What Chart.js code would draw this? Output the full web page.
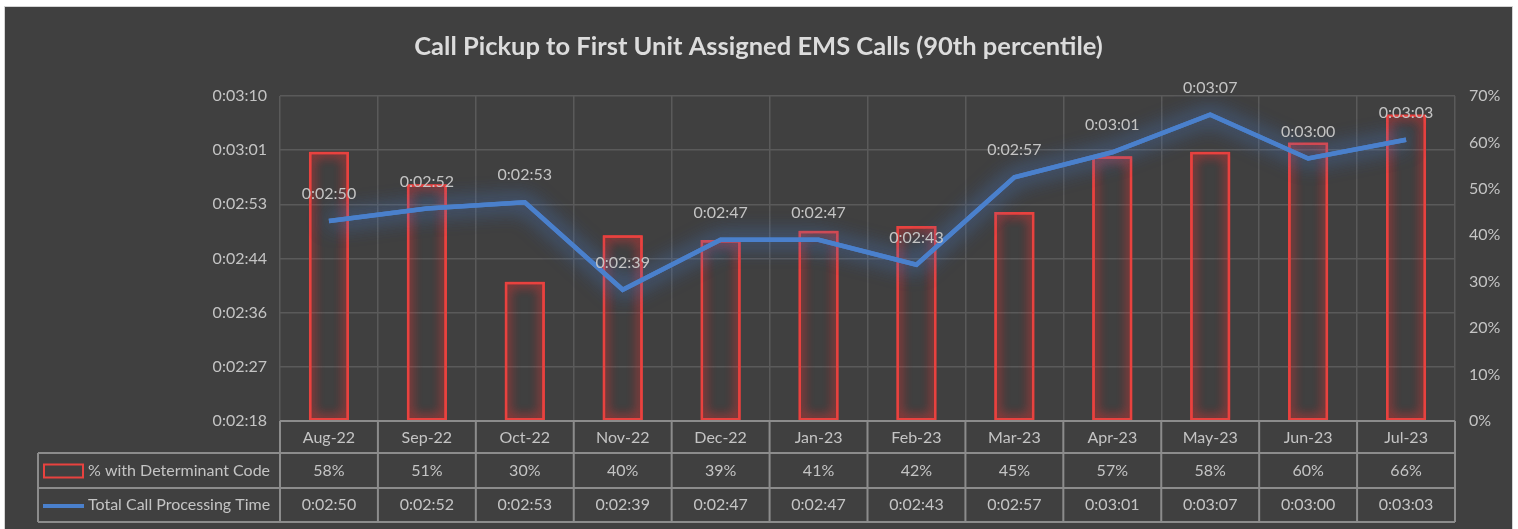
<!DOCTYPE html>
<html>
<head>
<meta charset="utf-8">
<script src="https://cdn.jsdelivr.net/npm/chart.js@4"></script>
<style>
  html, body { margin: 0; padding: 0; background: #fff; }
  #wrap {
    position: absolute; left: 5px; top: 7px; width: 1507px; height: 522px;
    background: #404040; box-shadow: 0 0 0 1px #d4d4d4;
  }
</style>
</head>
<body>
<div id="wrap"><canvas id="myChart" width="1507" height="522"></canvas></div>
<script>
const months = ['Aug-22', 'Sep-22', 'Oct-22', 'Nov-22', 'Dec-22', 'Jan-23', 'Feb-23', 'Mar-23', 'Apr-23', 'May-23', 'Jun-23', 'Jul-23'];
// % with determinant code
const pctDeterminant = [58, 51, 30, 40, 39, 41, 42, 45, 57, 58, 60, 66];
// total call processing time, in seconds
const processingSec = [170, 172, 173, 159, 167, 167, 163, 177, 181, 187, 180, 183];
// left axis ticks (seconds) and how Excel printed them
const leftTickValues = [138, 146.67, 155.33, 164, 172.67, 181.33, 190];
const leftTickLabels = ['0:02:18', '0:02:27', '0:02:36', '0:02:44', '0:02:53', '0:03:01', '0:03:10'];
const seriesNames = ['% with Determinant Code', 'Total Call Processing Time'];
const title = 'Call Pickup to First Unit Assigned EMS Calls (90th percentile)';

const textColor = '#c4c4c4';
const gridColor = '#5a5a5a';
const tableLine = '#8c8c8c';
const barColor = '#e8423f';
const lineColor = '#4a80cc';
const fontFamily = 'Lato';

function fmtTime(s) {
    const m = Math.floor(s / 60);
    const sec = Math.round(s % 60);
    return '0:' + String(m).padStart(2, '0') + ':' + String(sec).padStart(2, '0');
}

// glow around bars and line (extra passes make it stronger)
const glowPlugin = {
    id: 'glow',
    beforeDatasetDraw(chart, args) {
        const ds = chart.data.datasets[args.index];
        const ctx = chart.ctx;
        ctx.save();
        ctx.shadowColor = ds.glowColor;
        ctx.shadowBlur = ds.glowBlur;
        for (let i = 1; i < ds.glowPasses; i++) {
            args.meta.controller.draw();
        }
    },
    afterDatasetDraw(chart) {
        chart.ctx.restore();
    }
};

// title, point labels and the data table below the axis
const extrasPlugin = {
    id: 'extras',
    afterDraw(chart) {
        const ctx = chart.ctx;
        const area = chart.chartArea;
        const x = chart.scales.x;
        ctx.save();

        // title
        ctx.fillStyle = '#dcdcdc';
        ctx.font = 'bold 25.5px ' + fontFamily;
        ctx.textAlign = 'center';
        ctx.textBaseline = 'middle';
        ctx.fillText(title, chart.width / 2, 40);

        // labels above line points
        ctx.font = '16px ' + fontFamily;
        ctx.fillStyle = textColor;
        const lineMeta = chart.getDatasetMeta(1);
        lineMeta.data.forEach((pt, i) => {
            ctx.fillText(fmtTime(processingSec[i]), pt.x, pt.y - 27);
        });

        // table
        const tableLeft = 33;
        const rowTop = area.bottom;
        const r1 = rowTop + 32, r2 = r1 + 35, r3 = r2 + 34;
        const half = (x.getPixelForValue(1) - x.getPixelForValue(0)) / 2;
        ctx.strokeStyle = tableLine;
        ctx.lineWidth = 2;
        ctx.beginPath();
        ctx.moveTo(area.left, rowTop); ctx.lineTo(area.right, rowTop);
        ctx.moveTo(tableLeft, r1); ctx.lineTo(area.right, r1);
        ctx.moveTo(tableLeft, r2); ctx.lineTo(area.right, r2);
        ctx.moveTo(tableLeft, r3); ctx.lineTo(area.right, r3);
        ctx.moveTo(tableLeft, r1); ctx.lineTo(tableLeft, r3);
        for (let i = 0; i <= months.length; i++) {
            const px = i < months.length ? x.getPixelForValue(i) - half : x.getPixelForValue(i - 1) + half;
            ctx.moveTo(px, rowTop); ctx.lineTo(px, r3);
        }
        ctx.stroke();

        ctx.fillStyle = textColor;
        ctx.font = '16px ' + fontFamily;
        ctx.textAlign = 'center';
        months.forEach((m, i) => {
            const px = x.getPixelForValue(i);
            ctx.fillText(pctDeterminant[i] + '%', px, (r1 + r2) / 2);
            ctx.fillText(fmtTime(processingSec[i]), px, (r2 + r3) / 2);
        });

        // legend keys in the table
        ctx.textAlign = 'left';
        ctx.fillText(seriesNames[0], 83, (r1 + r2) / 2);
        ctx.fillText(seriesNames[1], 83, (r2 + r3) / 2);
        ctx.strokeStyle = barColor;
        ctx.lineWidth = 2;
        ctx.strokeRect(39, (r1 + r2) / 2 - 6, 39, 13);
        ctx.strokeStyle = lineColor;
        ctx.lineWidth = 4;
        ctx.beginPath();
        ctx.moveTo(38, (r2 + r3) / 2 + 1);
        ctx.lineTo(79, (r2 + r3) / 2 + 1);
        ctx.stroke();
        ctx.restore();
    }
};

const data = {
    labels: months,
    datasets: [{
        type: 'bar',
        label: seriesNames[0],
        data: pctDeterminant,
        yAxisID: 'y1',
        backgroundColor: 'rgba(0,0,0,0)',
        borderColor: barColor,
        borderWidth: 2.5,
        borderSkipped: false,
        barPercentage: 0.41,
        categoryPercentage: 1,
        glowColor: 'rgba(255, 50, 50, 0.8)',
        glowBlur: 12,
        glowPasses: 2,
        order: 2
    }, {
        type: 'line',
        label: seriesNames[1],
        data: processingSec,
        yAxisID: 'y',
        borderColor: lineColor,
        borderWidth: 4.5,
        pointRadius: 0,
        tension: 0,
        glowColor: 'rgba(70, 130, 220, 0.7)',
        glowBlur: 22,
        glowPasses: 2,
        order: 1
    }]
};

const config = {
    data: data,
    options: {
        responsive: false,
        animation: false,
        layout: {
            padding: { top: 89, bottom: 76, left: 0, right: 0 }
        },
        plugins: {
            legend: { display: false },
            tooltip: { enabled: false }
        },
        scales: {
            x: {
                grid: {
                    offset: true,
                    color: gridColor,
                    lineWidth: 1.5,
                    drawTicks: false
                },
                border: { display: false },
                ticks: {
                    color: textColor,
                    font: { family: fontFamily, size: 16 },
                    padding: 7
                },
                afterFit(scale) { scale.height = 32; }
            },
            y: {
                position: 'left',
                min: 138,
                max: 190,
                afterBuildTicks(scale) {
                    scale.ticks = leftTickValues.map(v => ({ value: v }));
                },
                grid: { color: gridColor, lineWidth: 1.5, drawTicks: false },
                border: { display: false },
                ticks: {
                    color: textColor,
                    font: { family: fontFamily, size: 16 },
                    padding: 13,
                    callback: function(val, index) {
                        return leftTickLabels[index];
                    }
                },
                afterFit(scale) { scale.width = 275; }
            },
            y1: {
                position: 'right',
                min: 0,
                max: 70,
                grid: { drawOnChartArea: false, drawTicks: false },
                border: { display: false },
                ticks: {
                    stepSize: 10,
                    color: textColor,
                    font: { family: fontFamily, size: 16 },
                    padding: 14,
                    callback: v => v + '%'
                },
                afterFit(scale) { scale.width = 57; }
            }
        }
    },
    plugins: [glowPlugin, extrasPlugin]
};

const myChart = new Chart(
    document.getElementById('myChart'),
    config
);
</script>
</body>
</html>
